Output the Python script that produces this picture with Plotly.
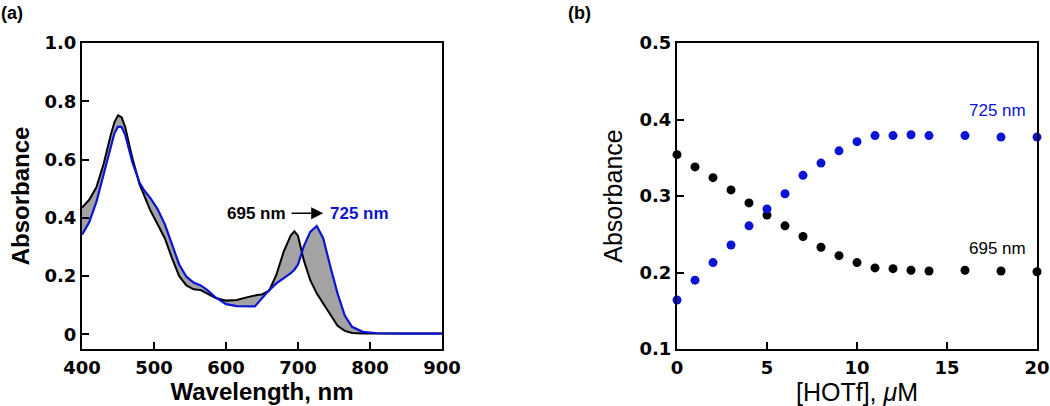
import plotly.graph_objects as go

# ---------------- data ----------------
wavelength = [400, 410, 420, 430, 440, 445, 450, 455, 460, 470, 480, 487, 495, 505, 515,
              525, 535, 545, 555, 565, 575, 585, 600, 615, 630, 640, 645, 650, 660, 670,
              680, 690, 695, 700, 708, 717, 726, 735, 745, 755, 765, 775, 790, 810, 850, 900]
abs_initial = [0.435, 0.462, 0.505, 0.585, 0.685, 0.728, 0.752, 0.745, 0.712, 0.605, 0.515,
               0.470, 0.425, 0.378, 0.330, 0.262, 0.200, 0.168, 0.155, 0.152, 0.140, 0.126,
               0.116, 0.118, 0.128, 0.135, 0.136, 0.137, 0.150, 0.205, 0.283, 0.340, 0.354,
               0.338, 0.255, 0.186, 0.141, 0.106, 0.066, 0.030, 0.012, 0.005, 0.003, 0.003,
               0.003, 0.003]
abs_final = [0.342, 0.385, 0.455, 0.550, 0.650, 0.690, 0.713, 0.712, 0.685, 0.590, 0.520,
             0.492, 0.468, 0.430, 0.378, 0.305, 0.240, 0.198, 0.178, 0.168, 0.150, 0.128,
             0.104, 0.097, 0.096, 0.096, 0.110, 0.125, 0.152, 0.175, 0.192, 0.210, 0.222,
             0.240, 0.302, 0.352, 0.372, 0.330, 0.232, 0.140, 0.065, 0.026, 0.009, 0.004,
             0.003, 0.003]

hotf_uM = [0, 1, 2, 3, 4, 5, 6, 7, 8, 9, 10, 11, 12, 13, 14, 16, 18, 20]
abs_725 = [0.164, 0.190, 0.213, 0.236, 0.261, 0.283, 0.303, 0.327, 0.343, 0.359, 0.371,
           0.379, 0.379, 0.380, 0.379, 0.379, 0.377, 0.377]
abs_695 = [0.354, 0.338, 0.324, 0.308, 0.291, 0.275, 0.261, 0.247, 0.233, 0.222, 0.213,
           0.206, 0.205, 0.203, 0.202, 0.203, 0.202, 0.201]

a_yticks = [0, 0.2, 0.4, 0.6, 0.8, 1.0]
a_yticktext = ["0", "0.2", "0.4", "0.6", "0.8", "1.0"]
a_xticks = [400, 500, 600, 700, 800, 900]
b_yticks = [0.1, 0.2, 0.3, 0.4, 0.5]
b_xticks = [0, 5, 10, 15, 20]

BLUE = "#0a14d2"
FONT = "Liberation Sans"
TICKFONT = "DejaVu Sans"

W, H = 1050, 406


def xdom(a, b):
    return [a / W, b / W]


def ydom(top, bottom):
    return [1 - bottom / H, 1 - top / H]


fig = go.Figure()

# panel (a)
fig.add_trace(go.Scatter(x=wavelength, y=abs_initial, mode="lines",
                         line=dict(color="black", width=2), xaxis="x", yaxis="y",
                         showlegend=False))
fig.add_trace(go.Scatter(x=wavelength, y=abs_final, mode="lines",
                         line=dict(color=BLUE, width=2.2), fill="tonexty",
                         fillcolor="#a3a3a3", xaxis="x", yaxis="y", showlegend=False))

# panel (b)
fig.add_trace(go.Scatter(x=hotf_uM, y=abs_695, mode="markers",
                         marker=dict(color="black", size=9), xaxis="x2", yaxis="y2",
                         showlegend=False, cliponaxis=False))
fig.add_trace(go.Scatter(x=hotf_uM, y=abs_725, mode="markers",
                         marker=dict(color=BLUE, size=9), xaxis="x2", yaxis="y2",
                         showlegend=False, cliponaxis=False))

tickfont = dict(family=TICKFONT, size=18, color="black", weight="bold")
axis_common = dict(showline=True, linecolor="black", linewidth=2, mirror=True,
                   ticks="inside", ticklen=7, tickwidth=2, tickcolor="black",
                   showgrid=False, zeroline=False, tickfont=tickfont,
                   automargin=False)

fig.update_layout(
    width=W, height=H,
    margin=dict(l=0, r=0, t=0, b=0),
    plot_bgcolor="white", paper_bgcolor="white",
    xaxis=dict(domain=xdom(82, 442), range=[400, 900], tickvals=a_xticks,
               ticklabelstandoff=1,
               title=dict(text="Wavelength, nm", standoff=2,
                          font=dict(family=FONT, size=24, color="black", weight="bold")),
               anchor="y", **axis_common),
    yaxis=dict(domain=ydom(43, 349), range=[-0.05, 1.0], tickvals=a_yticks,
               ticktext=a_yticktext, ticklabelstandoff=0,
               title=dict(text="Absorbance", standoff=8,
                          font=dict(family=FONT, size=24, color="black", weight="bold")),
               anchor="x", **axis_common),
    xaxis2=dict(domain=xdom(677, 1037), range=[0, 20], tickvals=b_xticks,
                ticklabelstandoff=1,
                title=dict(text="[HOTf], <i>μ</i>M", standoff=2,
                           font=dict(family=FONT, size=25, color="black")),
                anchor="y2", **axis_common),
    yaxis2=dict(domain=ydom(43, 349), range=[0.1, 0.5], tickvals=b_yticks,
                ticklabelstandoff=0,
                title=dict(text="Absorbance", standoff=10,
                           font=dict(family=FONT, size=25, color="black")),
                anchor="x2", **axis_common),
)

ann_bold = dict(family=FONT, size=17, color="black", weight="bold")
fig.add_annotation(x=735, y=0.416, ax=689, ay=0.416, xref="x", yref="y",
                   axref="x", ayref="y", text="", showarrow=True,
                   arrowhead=2, arrowsize=1.6, arrowwidth=1.5, arrowcolor="black")
fig.add_annotation(x=686, y=0.416, xref="x", yref="y", text="695 nm", showarrow=False,
                   xanchor="right", font=ann_bold)
fig.add_annotation(x=741, y=0.416, xref="x", yref="y", text="725 nm", showarrow=False,
                   xanchor="left", font=dict(family=FONT, size=17, color=BLUE, weight="bold"))

fig.add_annotation(x=17.8, y=0.412, xref="x2", yref="y2", text="725 nm", showarrow=False,
                   font=dict(family=FONT, size=17, color=BLUE))
fig.add_annotation(x=17.8, y=0.232, xref="x2", yref="y2", text="695 nm", showarrow=False,
                   font=dict(family=FONT, size=17, color="black"))

label_y = 1 - 13 / H
fig.add_annotation(x=0, y=label_y, xref="paper", yref="paper", text="(a)", showarrow=False,
                   xanchor="left", yanchor="middle", borderpad=0,
                   font=dict(family=FONT, size=18, color="black", weight="bold"))
fig.add_annotation(x=567 / W, y=label_y, xref="paper", yref="paper", text="(b)",
                   showarrow=False, xanchor="left", yanchor="middle", borderpad=0,
                   font=dict(family=FONT, size=18, color="black", weight="bold"))

fig.write_html("out.html",
               config={"displayModeBar": False},
               post_script="document.body.style.margin='0';"
                           "document.body.style.overflow='hidden';")
